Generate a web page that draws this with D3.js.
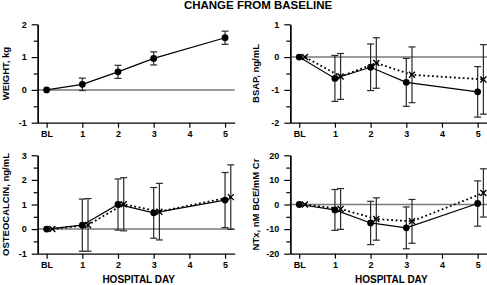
<!DOCTYPE html>
<html>
<head>
<meta charset="utf-8">
<script src="https://cdn.jsdelivr.net/npm/d3@7"></script>
<style>
  body { margin: 0; background: #fff; }
  svg { display: block; font-family: 'Liberation Sans', Arial, sans-serif; font-weight: bold; }
</style>
</head>
<body>
<div class="canvas"></div>
<script>
// days on the x axis, BL = baseline = day 0
const days = [0, 1, 2, 3, 5]
const dayTicks = [0, 1, 2, 3, 4, 5]
const dayLabels = ['BL', '1', '2', '3', '4', '5']

// mean change from baseline and error (half bar length)
const weight = [0, 0.17, 0.55, 0.96, 1.59]
const weightErr = [0, 0.19, 0.2, 0.2, 0.2]

const bsapSolid = [0, -0.65, -0.31, -0.77, -1.06]
const bsapSolidErr = [0, 0.70, 0.71, 0.73, 0.77]
const bsapDotted = [0, -0.59, -0.18, -0.54, -0.68]
const bsapDottedErr = [0, 0.70, 0.77, 0.85, 1.06]

const osteoSolid = [0, 0.16, 1.0, 0.66, 1.18]
const osteoSolidErr = [0, 1.06, 1.04, 1.03, 1.12]
const osteoDotted = [0, 0.17, 1.01, 0.71, 1.30]
const osteoDottedErr = [0, 1.07, 1.08, 1.15, 1.31]

const ntxSolid = [0, -2.2, -7.5, -9.5, 0.4]
const ntxSolidErr = [0, 8.3, 8.8, 8.5, 9.2]
const ntxDotted = [0, -1.8, -5.9, -6.85, 4.7]
const ntxDottedErr = [0, 8.3, 8.6, 8.9, 9.8]

// graph constant settings
const dims = { width: 487, height: 285, plotW: 197, plotH: 98.4 }
const crossOffset = 0.16

const svg = d3.select('.canvas')
  .append('svg')
  .attr('width', dims.width)
  .attr('height', dims.height)

svg.append('text')
  .attr('x', 258)
  .attr('y', 9)
  .attr('text-anchor', 'middle')
  .attr('font-size', 11.5)
  .text('CHANGE FROM BASELINE')

const panels = [
  { label: 'WEIGHT, kg', left: 37.7, top: 24.3, domain: [-1, 2], major: [-1, 0, 1, 2], minor: [-0.5, 0.5, 1.5],
    series: [{ mean: weight, err: weightErr, kind: 'dot' }], xTitle: false },
  { label: 'BSAP, ng/mL', left: 290.3, top: 24.3, domain: [-2, 1], major: [-2, -1, 0, 1], minor: [-1.5, -0.5, 0.5],
    series: [{ mean: bsapDotted, err: bsapDottedErr, kind: 'cross' }, { mean: bsapSolid, err: bsapSolidErr, kind: 'dot' }], xTitle: false },
  { label: 'OSTEOCALCIN, ng/mL', left: 37.7, top: 155.3, domain: [-1, 3], major: [-1, 0, 1, 2, 3], minor: [-0.5, 0.5, 1.5, 2.5],
    series: [{ mean: osteoDotted, err: osteoDottedErr, kind: 'cross' }, { mean: osteoSolid, err: osteoSolidErr, kind: 'dot' }], xTitle: true },
  { label: 'NTx, nM BCE/mM Cr', left: 290.3, top: 155.3, domain: [-20, 20], major: [-20, -10, 0, 10, 20], minor: [-15, -5, 5, 15],
    series: [{ mean: ntxDotted, err: ntxDottedErr, kind: 'cross' }, { mean: ntxSolid, err: ntxSolidErr, kind: 'dot' }], xTitle: true },
]

const styleAxis = (g) => {
  g.attr('font-family', null).attr('font-size', 9)
  g.select('.domain').attr('stroke', '#000').attr('stroke-width', 1.3)
  g.selectAll('.tick line').attr('stroke', '#000').attr('stroke-width', 1.2)
  g.selectAll('.tick text').attr('fill', '#000')
}

panels.forEach(p => {
  const x = d3.scaleLinear().domain([-0.25, 5.27]).range([p.left, p.left + dims.plotW])
  const y = d3.scaleLinear().domain(p.domain).range([p.top + dims.plotH, p.top])

  // zero reference line
  svg.append('line')
    .attr('x1', x.range()[0]).attr('x2', x.range()[1])
    .attr('y1', y(0)).attr('y2', y(0))
    .attr('stroke', '#7a7a7a')
    .attr('stroke-width', 1.5)

  // y axis, minor then major ticks
  svg.append('g')
    .attr('transform', `translate(${p.left},0)`)
    .call(d3.axisLeft(y).tickValues(p.minor).tickSize(4).tickFormat('').tickSizeOuter(0))
    .call(styleAxis)
  svg.append('g')
    .attr('transform', `translate(${p.left},0)`)
    .call(d3.axisLeft(y).tickValues(p.major).tickSize(6).tickPadding(5).tickSizeOuter(0).tickFormat(d => String(d)))
    .call(styleAxis)

  // x axis
  svg.append('g')
    .attr('transform', `translate(0,${p.top + dims.plotH})`)
    .call(d3.axisBottom(x).tickValues(dayTicks).tickSize(5).tickPadding(3).tickSizeOuter(0).tickFormat((d, i) => dayLabels[i]))
    .call(styleAxis)

  // y label
  const lx = p.left < 100 ? 8.5 : 258.5
  svg.append('text')
    .attr('transform', `translate(${lx},${p.top + dims.plotH / 2}) rotate(-90)`)
    .attr('text-anchor', 'middle')
    .attr('font-size', 9.5)
    .text(p.label)

  if (p.xTitle) {
    svg.append('text')
      .attr('x', p.left + 101)
      .attr('y', 283)
      .attr('text-anchor', 'middle')
      .attr('font-size', 10)
      .text('HOSPITAL DAY')
  }

  p.series.forEach(s => {
    const off = s.kind === 'cross' ? crossOffset : 0
    const pts = days.map((d, i) => ({ day: d + off, v: s.mean[i], e: s.err[i] }))

    // error bars
    const bars = svg.append('g').attr('stroke', '#2a2a2a').attr('stroke-width', 1.2)
    pts.filter(d => d.e > 0).forEach(d => {
      const cx = x(d.day)
      bars.append('line').attr('x1', cx).attr('x2', cx).attr('y1', y(d.v - d.e)).attr('y2', y(d.v + d.e))
      bars.append('line').attr('x1', cx - 3.5).attr('x2', cx + 3.5).attr('y1', y(d.v - d.e)).attr('y2', y(d.v - d.e))
      bars.append('line').attr('x1', cx - 3.5).attr('x2', cx + 3.5).attr('y1', y(d.v + d.e)).attr('y2', y(d.v + d.e))
    })

    const line = d3.line().x(d => x(d.day)).y(d => y(d.v))
    svg.append('path')
      .attr('d', line(pts))
      .attr('fill', 'none')
      .attr('stroke', '#000')
      .attr('stroke-width', s.kind === 'cross' ? 1.8 : 1.2)
      .attr('stroke-dasharray', s.kind === 'cross' ? '1.8,2.6' : null)

    if (s.kind === 'dot') {
      svg.append('g').selectAll('circle')
        .data(pts)
        .enter()
        .append('circle')
        .attr('cx', d => x(d.day))
        .attr('cy', d => y(d.v))
        .attr('r', 3.4)
        .attr('fill', '#000')
    } else {
      svg.append('g').selectAll('path')
        .data(pts)
        .enter()
        .append('path')
        .attr('transform', d => `translate(${x(d.day)},${y(d.v)})`)
        .attr('d', 'M-3,-3L3,3M-3,3L3,-3')
        .attr('stroke', '#000')
        .attr('stroke-width', 1.4)
    }
  })
})
</script>
</body>
</html>
